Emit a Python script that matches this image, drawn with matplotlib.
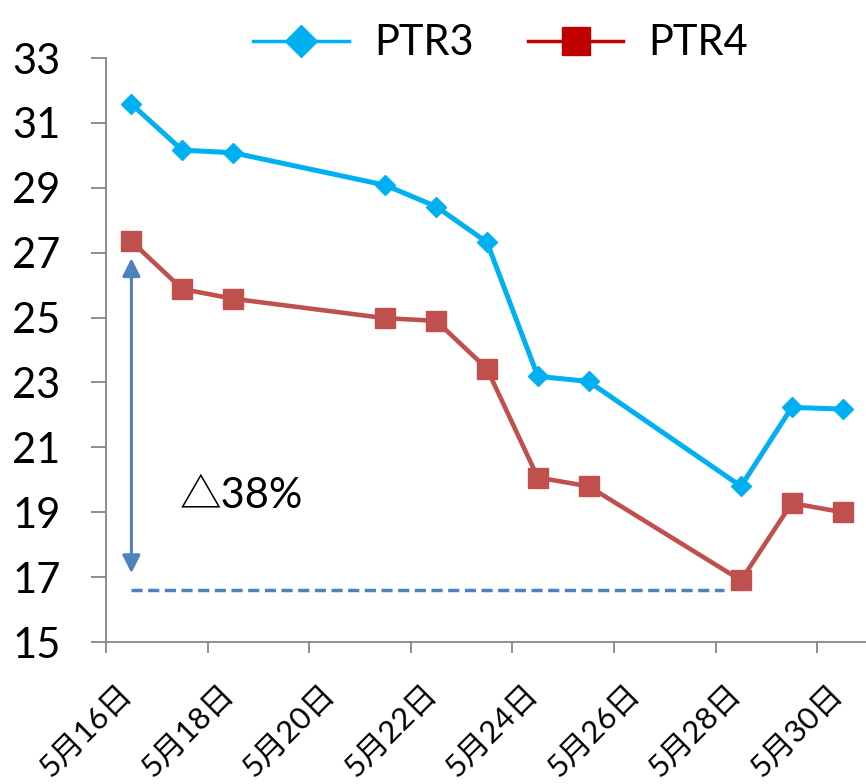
import matplotlib
matplotlib.use('Agg')
import matplotlib.pyplot as plt
from matplotlib.lines import Line2D
from matplotlib.transforms import ScaledTranslation

# Tage im Mai (Messpunkte)
days = [16, 17, 18, 21, 22, 23, 24, 25, 28, 29, 30]
ptr3 = [31.58, 30.16, 30.08, 29.08, 28.42, 27.32, 23.19, 23.03, 19.80, 22.23, 22.18]
ptr4 = [27.35, 25.88, 25.58, 24.98, 24.90, 23.42, 20.07, 19.80, 16.90, 19.28, 19.00]

tick_days = [16, 18, 20, 22, 24, 26, 28, 30]
tick_labels = [f"5月{d}日" for d in tick_days]
y_ticks = list(range(15, 34, 2))

c_ptr3 = '#00B0F0'
c_ptr4 = '#C0504D'
c_ptr4_leg = '#C00000'
c_arrow = '#4F81BD'
c_axis = '#868686'

latin_cjk = ['Lato', 'Noto Sans CJK SC']

fig = plt.figure(figsize=(8.66, 7.84), dpi=100)
ax = fig.add_axes([106 / 866, 142 / 784, 762 / 866, 584 / 784])

# Punkte liegen jeweils in der Tagesmitte
x = [d + 0.5 for d in days]
ax.plot(x, ptr3, color=c_ptr3, lw=3.6, marker='D', ms=10.2,
        mfc=c_ptr3, mec=c_ptr3, zorder=3)
ax.plot(x, ptr4, color=c_ptr4, lw=3.3, marker='s', ms=14.4,
        mfc=c_ptr4, mec=c_ptr4, zorder=3)

# Pfeil und gestrichelte Linie fuer den Rueckgang
ax.annotate('', xy=(16.5, 26.83), xytext=(16.5, 17.12),
            arrowprops=dict(arrowstyle='<|-|>,head_length=0.54,head_width=0.27',
                            color=c_arrow, lw=2.2, mutation_scale=20,
                            shrinkA=0, shrinkB=0), zorder=2)
ax.plot([16.5, 28.16], [16.6, 16.6], color=c_arrow, lw=2.5,
        ls=(0, (3.2, 1.6)), zorder=2)
ax.text(17.45, 19.13, '△38%', fontsize=30, family=latin_cjk,
        ha='left', va='baseline')

ax.set_xlim(16, 31)
ax.set_ylim(15, 33)
ax.set_yticks(y_ticks)
ax.set_yticklabels([str(v) for v in y_ticks], fontsize=30, family='Lato')
ax.set_xticks(tick_days)
ax.set_xticklabels(tick_labels, fontsize=22.5, family=latin_cjk,
                   rotation=45, ha='right', va='center', rotation_mode='anchor')

ax.tick_params(axis='y', direction='out', length=10.8, width=1.3,
               color=c_axis, pad=22)
ax.tick_params(axis='x', direction='out', length=8, width=1.3,
               color=c_axis, pad=26)

# Beschriftungen etwas nach rechts schieben (wie im Original)
for lab in ax.get_xticklabels():
    lab.set_transform(lab.get_transform() + ScaledTranslation(0.21, 0, fig.dpi_scale_trans))

for side in ['top', 'right']:
    ax.spines[side].set_visible(False)
for side in ['left', 'bottom']:
    ax.spines[side].set_color(c_axis)
    ax.spines[side].set_linewidth(1.3)
ax.spines['bottom'].set_bounds(16, 31.2)

handles = [
    Line2D([], [], color=c_ptr3, lw=2.5, marker='D', ms=16.8, mfc=c_ptr3, mec=c_ptr3),
    Line2D([], [], color=c_ptr4_leg, lw=2.5, marker='s', ms=20, mfc=c_ptr4_leg, mec=c_ptr4_leg),
]
fig.legend(handles, ['PTR3', 'PTR4'], loc='center', bbox_to_anchor=(0.578, 0.945),
           ncol=2, frameon=False, handlelength=2.3, handletextpad=0.6,
           columnspacing=1.3, prop={'family': 'Lato', 'size': 30})

fig.savefig('out.png', dpi=100)
